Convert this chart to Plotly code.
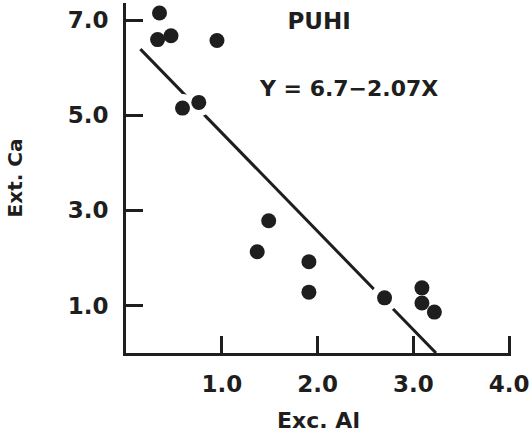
import plotly.graph_objects as go

# Exchangeable Al vs. extractable Ca, PUHI soil series
exc_al = [0.35, 0.33, 0.47, 0.95, 0.59, 0.76, 1.49, 1.37, 1.91, 1.91, 2.70, 3.09, 3.09, 3.22]
ext_ca = [7.15, 6.59, 6.67, 6.57, 5.15, 5.27, 2.78, 2.13, 1.92, 1.28, 1.16, 1.37, 1.05, 0.86]

# Regression Y = 6.7 - 2.07 X
intercept = 6.7
slope = -2.07
fit_x = [0.15, -intercept / slope]
fit_y = [intercept + slope * x for x in fit_x]
equation = "Y = 6.7\u22122.07X"

x_ticks = [1, 2, 3, 4]
y_ticks = [1, 3, 5, 7]
tick_format = ".1f"   # labels read 1.0, 2.0, ...

FONT = "DejaVu Sans"
INK = "#1e1e1e"

fig = go.Figure()

fig.add_trace(go.Scatter(
    x=fit_x, y=fit_y, mode="lines",
    line=dict(color=INK, width=3), showlegend=False,
))
# white halo so the fitted line breaks around the dots
fig.add_trace(go.Scatter(
    x=exc_al, y=ext_ca, mode="markers",
    marker=dict(size=28, color="white"), showlegend=False,
))
fig.add_trace(go.Scatter(
    x=exc_al, y=ext_ca, mode="markers",
    marker=dict(size=15, color=INK), showlegend=False,
))
# regression equation label
fig.add_trace(go.Scatter(
    x=[2.33], y=[5.53], mode="text", text=[equation],
    textfont=dict(family=FONT, size=22, color=INK, weight="bold"),
    showlegend=False,
))

tick_font = dict(family=FONT, size=23, color=INK, weight="bold")

fig.update_layout(
    width=532, height=436,
    margin=dict(l=126, r=17, t=3, b=83),
    plot_bgcolor="white",
    title=dict(text="PUHI", x=0.60, xanchor="center", y=0.952, yanchor="middle",
               font=dict(family=FONT, size=23, color=INK, weight="bold")),
    xaxis=dict(range=[0, 4.02], tickvals=x_ticks, tickformat=tick_format,
               showgrid=False, showline=True, linecolor=INK, linewidth=3,
               ticks="inside", ticklen=17, tickwidth=3, tickcolor=INK,
               tickfont=tick_font, ticklabeloverflow="allow",
               ticklabelstandoff=8,
               title=dict(text="Exc. Al", standoff=18,
                          font=dict(family=FONT, size=22, color=INK, weight="bold"))),
    yaxis=dict(range=[0, 7.36], tickvals=y_ticks, tickformat=tick_format,
               showgrid=False, showline=True, linecolor=INK, linewidth=3,
               ticks="inside", ticklen=17, tickwidth=3, tickcolor=INK,
               tickfont=tick_font, ticklabelstandoff=10,
               title=dict(text="Ext. Ca", standoff=40,
                          font=dict(family=FONT, size=20, color=INK, weight="bold"))),
)

fig.write_html("out.html")
